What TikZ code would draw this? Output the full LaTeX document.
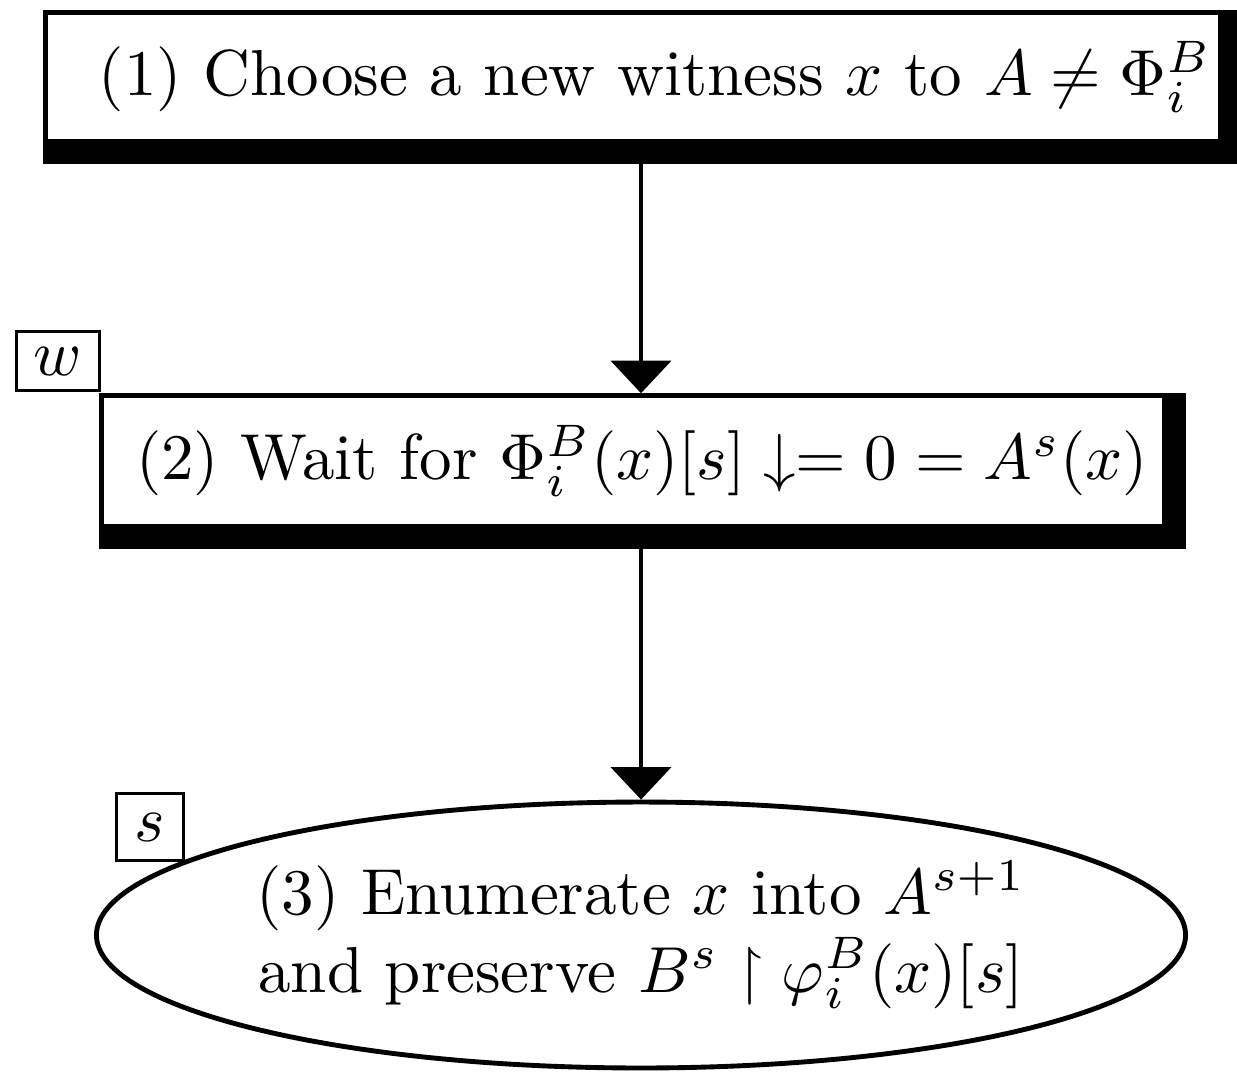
\documentclass[tikz,border=0pt]{standalone}
\usepackage{amssymb,amsmath}
\usepackage{tikz}
\usetikzlibrary{arrows.meta,backgrounds,shapes.geometric}

\begin{document}
\begin{tikzpicture}[x=0.1538pt,y=-0.1538pt,
    stage/.style={rectangle,draw,line width=0.75pt,fill=white,inner sep=0pt},
    tag/.style={rectangle,draw,line width=0.45pt,fill=white,inner sep=0pt},
    flow/.style={line width=0.75pt,-{Triangle[width=9.2pt,length=5pt]}}]

\useasboundingbox (0,0) rectangle (1237,1075);

\node[stage,minimum width=180.6pt,minimum height=19.8pt] (1) at (633,77)
  {\hspace*{6.8pt}(1) Choose a new witness $x$ to $A \neq \Phi_i^B$};
\node[stage,minimum width=163.6pt,minimum height=20.1pt] (2) at (633,461)
  {\hspace*{2.8pt}(2) Wait for $\Phi_i^B(x)[s]\downarrow= 0 = A^s(x)$};
\node[ellipse,draw,line width=0.75pt,minimum width=167.5pt,minimum height=40.9pt,
  inner sep=0pt,align=center] (3) at (641,935)
  {(3) Enumerate $x$ into $A^{s+1}$\\ and preserve $B^s \restriction \varphi_i^B(x)[s]$};

\node[tag,minimum width=12.9pt,minimum height=9.2pt] (w) at (58,361) {$w$};
\node[tag,minimum width=10.3pt,minimum height=10.3pt] (s) at (150,827) {$s$};

\begin{pgfonlayer}{background}
\fill (1.north west) rectangle ([shift={(19,20)}]1.south east);
\fill (2.north west) rectangle ([shift={(19,20)}]2.south east);
\end{pgfonlayer}

\draw[flow] (3.north |- 1.south) -- (3.north |- 2.north);
\draw[flow] (3.north |- 2.south) -- (3.north);
\end{tikzpicture}
\end{document}
